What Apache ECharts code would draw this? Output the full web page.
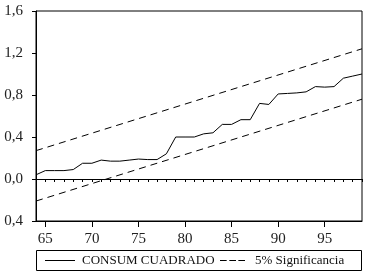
<!DOCTYPE html>
<html>
<head>
<meta charset="utf-8">
<script src="https://cdn.jsdelivr.net/npm/echarts@6/dist/echarts.min.js"></script>
<style>
    html, body { margin: 0; padding: 0; background: #fff; }
    #graph { width: 372px; height: 279px; }
</style>
</head>
<body>
<div id="graph"></div>
<script>
// años (dos cifras) y valores de la serie
const years = [64, 65, 66, 67, 68, 69, 70, 71, 72, 73, 74, 75, 76, 77, 78, 79, 80, 81,
    82, 83, 84, 85, 86, 87, 88, 89, 90, 91, 92, 93, 94, 95, 96, 97, 98, 99]
const consum = [0.04, 0.08, 0.08, 0.08, 0.09, 0.15, 0.15, 0.18, 0.17, 0.17, 0.18, 0.19,
    0.185, 0.185, 0.24, 0.40, 0.40, 0.40, 0.43, 0.44, 0.52, 0.52, 0.565, 0.565,
    0.72, 0.71, 0.81, 0.815, 0.82, 0.83, 0.88, 0.875, 0.88, 0.96, 0.98, 1.00]
// bandas del 5% (extremos de cada recta)
const bandYears = [64, 99]
const upper = [0.27, 1.24]
const lower = [-0.21, 0.76]
// etiquetas de los ejes
const yTickLabels = ['0,4', '0,0', '0,4', '0,8', '1,2', '1,6']
const xTickLabels = [65, 70, 75, 80, 85, 90, 95]

const serif = 'Liberation Serif'
const pair = (xs, ys) => xs.map((x, i) => [x, ys[i]])

let myChart = echarts.init(document.getElementById('graph'))
let option = {
    animation: false,
    textStyle: { fontFamily: serif },
    grid: {
        left: 36,
        right: 10,
        top: 11,
        bottom: 58,
        show: true,
        borderColor: '#000',
        borderWidth: 1
    },
    xAxis: [{
        type: 'value',
        min: 64,
        max: 99,
        axisLine: { onZero: false, lineStyle: { color: '#000', width: 1 } },
        axisTick: {
            customValues: xTickLabels,
            length: 6,
            lineStyle: { color: '#000' }
        },
        axisLabel: {
            customValues: xTickLabels,
            margin: 11,
            color: '#222',
            fontFamily: serif,
            fontSize: 15
        },
        splitLine: { show: false }
    }, {
        // ticks menores de cada año
        type: 'value',
        position: 'bottom',
        min: 64,
        max: 99,
        interval: 1,
        axisLine: { show: false },
        axisTick: { length: 3, lineStyle: { color: '#000' } },
        axisLabel: { show: false },
        splitLine: { show: false }
    }],
    yAxis: {
        type: 'value',
        min: -0.4,
        max: 1.6,
        interval: 0.4,
        axisLine: { show: true, lineStyle: { color: '#000', width: 1 } },
        axisTick: { show: true, length: 4, lineStyle: { color: '#000' } },
        axisLabel: {
            margin: 13,
            color: '#222',
            fontFamily: serif,
            fontSize: 15,
            formatter: (v, i) => yTickLabels[i]
        },
        splitLine: { show: false }
    },
    legend: [{
        data: ['CONSUM CUADRADO'],
        left: 45,
        top: 254,
        padding: 0,
        icon: 'rect',
        itemWidth: 30,
        itemHeight: 1,
        textStyle: { fontFamily: serif, fontSize: 13, color: '#111', lineHeight: 13, padding: [0, 0, 0, 2] }
    }, {
        data: ['5% Significancia'],
        left: 220,
        top: 254,
        padding: 0,
        icon: 'path://M0,0h20v3h-20z M28,0h20v3h-20z M55,0h20v3h-20z',
        symbolKeepAspect: false,
        itemWidth: 25,
        itemHeight: 1,
        textStyle: { fontFamily: serif, fontSize: 13, color: '#111', lineHeight: 13, padding: [0, 0, 0, 5] }
    }],
    graphic: [{
        type: 'rect',
        shape: { x: 36.5, y: 250.5, width: 325, height: 20 },
        style: { fill: 'none', stroke: '#000', lineWidth: 1 },
        silent: true
    }],
    series: [{
        name: 'CONSUM CUADRADO',
        type: 'line',
        data: pair(years, consum),
        showSymbol: false,
        symbol: 'none',
        lineStyle: { color: '#000', width: 1 },
        itemStyle: { color: '#000' },
        markLine: {
            silent: true,
            symbol: 'none',
            label: { show: false },
            lineStyle: { color: '#000', width: 1, type: 'solid' },
            data: [{ yAxis: 0 }]
        }
    }, {
        name: '5% Significancia',
        type: 'line',
        data: pair(bandYears, upper),
        showSymbol: false,
        symbol: 'none',
        lineStyle: { color: '#000', width: 1, type: [7, 5] },
        itemStyle: { color: '#000' }
    }, {
        name: '5% Significancia',
        type: 'line',
        data: pair(bandYears, lower),
        showSymbol: false,
        symbol: 'none',
        lineStyle: { color: '#000', width: 1, type: [7, 5] },
        itemStyle: { color: '#000' }
    }]
}
myChart.setOption(option)
</script>
</body>
</html>
